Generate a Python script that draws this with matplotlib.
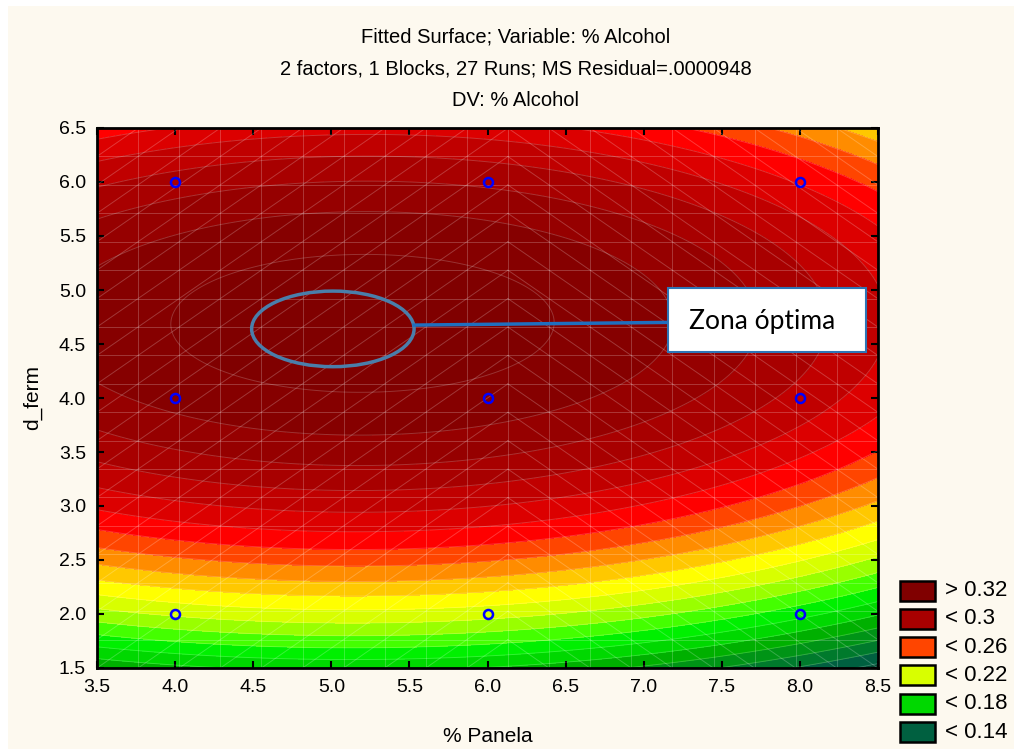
import numpy as np
import matplotlib.pyplot as plt
from matplotlib.patches import Ellipse, Rectangle
from matplotlib.colors import ListedColormap, BoundaryNorm

# design points (27 runs -> 9 distinct settings) and % alcohol
panela = [4, 6, 8, 4, 6, 8, 4, 6, 8]
d_ferm = [2, 2, 2, 4, 4, 4, 6, 6, 6]
alcohol = [0.212, 0.215, 0.182, 0.312, 0.315, 0.289, 0.295, 0.298, 0.268]

levels = [0.0, 0.12, 0.13, 0.14, 0.15, 0.16, 0.17, 0.18, 0.19, 0.20, 0.21,
          0.22, 0.23, 0.24, 0.25, 0.26, 0.27, 0.28, 0.29, 0.30, 0.31, 0.32, 1.0]
band_colors = ['#003d2a', '#004a33', '#006040', '#007a2c', '#009416', '#00b000',
               '#00d800', '#00f000', '#44ff00', '#99ff00', '#d8ff00', '#ffff00',
               '#ffc800', '#ff8c00', '#ff4500', '#ff0000', '#dc0000', '#c00000',
               '#a80000', '#960000', '#860000', '#800000']

legend_labels = ['> 0.32', '< 0.3', '< 0.26', '< 0.22', '< 0.18', '< 0.14']
legend_colors = ['#800000', '#a80000', '#ff4500', '#d8ff00', '#00d800', '#006040']

bg = '#fdf9ef'
plt.rcParams['font.family'] = ['Liberation Sans', 'DejaVu Sans']

# full quadratic fit  z = b0 + b1 x + b2 y + b3 x^2 + b4 y^2 + b5 xy
px = np.array(panela, float)
py = np.array(d_ferm, float)
A = np.column_stack([np.ones_like(px), px, py, px**2, py**2, px * py])
coef, *_ = np.linalg.lstsq(A, np.array(alcohol), rcond=None)

gx, gy = np.meshgrid(np.linspace(3.5, 8.5, 300), np.linspace(1.5, 6.5, 300))
gz = (coef[0] + coef[1] * gx + coef[2] * gy + coef[3] * gx**2
      + coef[4] * gy**2 + coef[5] * gx * gy)

fig = plt.figure(figsize=(10.14, 7.49), dpi=100, facecolor='white')
fig.patches.append(Rectangle((8 / 1014, 0), 1, 1 - 6 / 749, transform=fig.transFigure,
                             facecolor=bg, edgecolor='none', zorder=-10))
ax = fig.add_axes([97 / 1014, 1 - 668 / 749, 781 / 1014, 540 / 749])

cmap = ListedColormap(band_colors)
norm = BoundaryNorm(levels, cmap.N)
ax.contourf(gx, gy, gz, levels=levels, cmap=cmap, norm=norm)
ax.contour(gx, gy, gz, levels=levels[1:-1], colors='white', linewidths=0.7, alpha=0.2)

# faint mesh of the fitted surface
mx = np.linspace(3.5, 8.5, 20)
my = np.linspace(1.5, 6.5, 20)
mesh = dict(color='white', lw=0.7, alpha=0.22, zorder=2)
for v in mx:
    ax.plot([v, v], [1.5, 6.5], **mesh)
for v in my:
    ax.plot([3.5, 8.5], [v, v], **mesh)
dx = mx[1] - mx[0]
dy = my[1] - my[0]
for k in range(-20, 40):
    # left half: lines rising to the right, right half: falling
    xs = np.array([3.5, 6.13])
    ys = 1.5 + (xs - 3.5) / dx * dy + (k - 19) * dy
    ax.plot(xs, ys, **mesh)
    xs = np.array([6.13, 8.5])
    ys = 1.5 - (xs - 6.13) / dx * dy + k * dy
    ax.plot(xs, ys, **mesh)

ax.plot(panela, d_ferm, 'o', ms=6.5, mfc='none', mec='#0000ff', mew=1.8, zorder=5)

# annotation
ax.add_patch(Ellipse((5.01, 4.64), 1.04, 0.70, fill=False, ec='#4a7eaa', lw=2.5, zorder=6))
ax.plot([5.53, 7.155], [4.675, 4.70], color='#1f6fbf', lw=2.5, zorder=6)
ax.add_patch(Rectangle((7.155, 4.426), 1.268, 0.593, fc='white', ec='#2e75b6', lw=1.5, zorder=7))
ax.text(7.76, 4.71, 'Zona óptima', family=['Lato', 'DejaVu Sans'], fontsize=19,
        ha='center', va='center', zorder=8)

ax.set_xlim(3.5, 8.5)
ax.set_ylim(1.5, 6.5)
ax.set_xticks(np.arange(3.5, 8.51, 0.5))
ax.set_yticks(np.arange(1.5, 6.51, 0.5))
ax.set_xticklabels([f'{v:.1f}' for v in np.arange(3.5, 8.51, 0.5)])
ax.set_yticklabels([f'{v:.1f}' for v in np.arange(1.5, 6.51, 0.5)])
ax.tick_params(direction='in', length=5, width=1.5, top=True, right=True,
               labelsize=14, pad=8)
for s in ax.spines.values():
    s.set_linewidth(2)
ax.set_xlabel('% Panela', fontsize=15, labelpad=22)
ax.set_ylabel('d_ferm', fontsize=15, labelpad=12)

tx = 516 / 1014
fig.text(tx, 1 - 37 / 749, 'Fitted Surface; Variable: % Alcohol', ha='center', va='center', fontsize=14.5)
fig.text(tx, 1 - 69 / 749, '2 factors, 1 Blocks, 27 Runs; MS Residual=.0000948',
         ha='center', va='center', fontsize=14.5)
fig.text(tx, 1 - 101 / 749, 'DV: % Alcohol', ha='center', va='center', fontsize=14.5)

# legend
for i, (lab, col) in enumerate(zip(legend_labels, legend_colors)):
    yc = 590.5 + i * 28.3
    fig.patches.append(Rectangle((900 / 1014, 1 - (yc + 10) / 749), 35 / 1014, 20 / 749,
                                 transform=fig.transFigure, fc=col, ec='black', lw=1.8))
    fig.text(945 / 1014, 1 - yc / 749, lab, ha='left', va='center', fontsize=16)

fig.savefig('out.png', dpi=100, facecolor=fig.get_facecolor())
